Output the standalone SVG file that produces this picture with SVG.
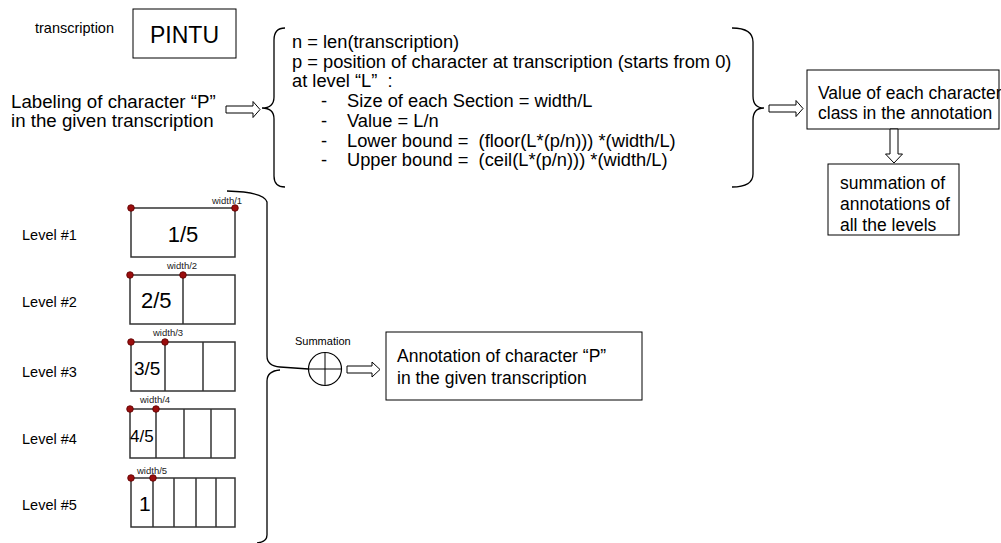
<svg xmlns="http://www.w3.org/2000/svg" width="1001" height="543" viewBox="0 0 1001 543">
  <style>
    text { font-family: "Liberation Sans", Arial, sans-serif; fill: #000; }
    .box { fill: #fff; stroke: #000; stroke-width: 1; }
    .cell { fill: #fff; stroke: #333; stroke-width: 1.5; }
    .div { stroke: #333; stroke-width: 1.5; }
    .brace { fill: none; stroke: #000; stroke-width: 1.3; }
    .harrow { fill: #fff; stroke: #000; stroke-width: 1; }
    .dot { fill: #9b0d0d; stroke: #5a0000; stroke-width: 0.8; }
    .lbl { font-size: 14.5px; }
    .w { font-size: 9.5px; fill: #222; }
    .big { font-size: 18.7px; }
    .body { font-size: 18.3px; }
    .side { font-size: 17.5px; }
  </style>

  <!-- input word -->
  <g id="transcription">
    <text x="35" y="33" class="lbl">transcription</text>
    <rect class="box" x="133" y="9" width="103" height="49"/>
    <text x="184.5" y="43" font-size="23" text-anchor="middle">PINTU</text>
  </g>

  <g id="labeling">
    <text x="11" y="108" class="big">Labeling of character “P”</text>
    <text x="11" y="127" class="big">in the given transcription</text>
  </g>

  <!-- formula block -->
  <g id="formula">
    <text class="body" x="292" y="48">n = len(transcription)</text>
    <text class="body" x="292" y="68">p = position of character at transcription (starts from 0)</text>
    <text class="body" x="292" y="87" xml:space="preserve">at level “L”  :</text>
    <text class="body" x="321" y="107">-</text>
    <text class="body" x="347" y="107">Size of each Section = width/L</text>
    <text class="body" x="321" y="127">-</text>
    <text class="body" x="347" y="127">Value = L/n</text>
    <text class="body" x="321" y="147">-</text>
    <text class="body" x="347" y="147" xml:space="preserve">Lower bound =  (floor(L*(p/n))) *(width/L)</text>
    <text class="body" x="321" y="166">-</text>
    <text class="body" x="347" y="166" xml:space="preserve">Upper bound =  (ceil(L*(p/n))) *(width/L)</text>
  </g>

  <g id="value-box">
    <rect class="box" x="807" y="70" width="192" height="59"/>
    <text class="side" x="818" y="99">Value of each character</text>
    <text class="side" x="818" y="119">class in the annotation</text>
  </g>

  <g id="sum-levels">
    <rect class="box" x="828" y="164" width="131" height="71"/>
    <text class="side" x="840" y="189">summation of</text>
    <text class="side" x="840" y="210">annotations of</text>
    <text class="side" x="840" y="231">all the levels</text>
  </g>

  <!-- levels -->
  <g id="level-1">
    <text class="lbl" x="22" y="240">Level #1</text>
    <rect class="cell" x="131" y="208" width="104" height="49"/>
    <text x="212" y="204" class="w">width/1</text>
    <text x="183" y="242" font-size="22" text-anchor="middle">1/5</text>
    <circle class="dot" cx="131" cy="208" r="3.3"/>
    <circle class="dot" cx="235" cy="208" r="3.3"/>
  </g>

  <g id="level-2">
    <text class="lbl" x="22" y="307">Level #2</text>
    <rect class="cell" x="130" y="275" width="105" height="49"/>
    <line class="div" x1="183" y1="275" x2="183" y2="324"/>
    <text x="167" y="269" class="w">width/2</text>
    <text x="141" y="308" font-size="22">2/5</text>
    <circle class="dot" cx="130" cy="275" r="3.3"/>
    <circle class="dot" cx="183" cy="275" r="3.3"/>
  </g>

  <g id="level-3">
    <text class="lbl" x="22" y="377">Level #3</text>
    <rect class="cell" x="131" y="342" width="104" height="49"/>
    <line class="div" x1="165" y1="342" x2="165" y2="391"/>
    <line class="div" x1="203" y1="342" x2="203" y2="391"/>
    <text x="153" y="336" class="w">width/3</text>
    <text x="134" y="375" font-size="19">3/5</text>
    <circle class="dot" cx="131" cy="342" r="3.3"/>
    <circle class="dot" cx="165" cy="342" r="3.3"/>
  </g>

  <g id="level-4">
    <text class="lbl" x="22" y="444">Level #4</text>
    <rect class="cell" x="130" y="409" width="105" height="49"/>
    <line class="div" x1="156" y1="409" x2="156" y2="458"/>
    <line class="div" x1="184" y1="409" x2="184" y2="458"/>
    <line class="div" x1="211" y1="409" x2="211" y2="458"/>
    <text x="140" y="403" class="w">width/4</text>
    <text x="130" y="442" font-size="17">4/5</text>
    <circle class="dot" cx="130" cy="409" r="3.3"/>
    <circle class="dot" cx="156" cy="409" r="3.3"/>
  </g>

  <g id="level-5">
    <text class="lbl" x="22" y="510">Level #5</text>
    <rect class="cell" x="131" y="478" width="104" height="49"/>
    <line class="div" x1="153" y1="478" x2="153" y2="527"/>
    <line class="div" x1="174" y1="478" x2="174" y2="527"/>
    <line class="div" x1="196" y1="478" x2="196" y2="527"/>
    <line class="div" x1="216" y1="478" x2="216" y2="527"/>
    <text x="137" y="474" class="w">width/5</text>
    <text x="139" y="511" font-size="21">1</text>
    <circle class="dot" cx="131" cy="478" r="3.3"/>
    <circle class="dot" cx="153" cy="478" r="3.3"/>
  </g>

  <g id="summation">
    <text x="295" y="345" font-size="11" fill="#222">Summation</text>
    <circle cx="325" cy="369" r="16.5" fill="none" stroke="#000" stroke-width="1.2"/>
    <line x1="308.5" y1="369" x2="341.5" y2="369" stroke="#000" stroke-width="1"/>
    <line x1="325" y1="352.5" x2="325" y2="385.5" stroke="#000" stroke-width="1"/>
  </g>

  <g id="annotation">
    <rect class="box" x="386" y="332" width="256" height="68"/>
    <text class="side" x="397" y="362">Annotation of character “P”</text>
    <text class="side" x="397" y="384">in the given transcription</text>
  </g>

  <!-- braces and block arrows -->
  <g id="connectors">
    <path class="brace" d="M285,28 Q274,28 274,40 L274,97 Q274,108 262,108 Q274,108 274,119 L274,176 Q274,187 285,187"/>
    <path class="brace" d="M732,28 Q753,28 753,42 L753,96 Q753,108 764,108 Q753,108 753,120 L753,174 Q753,187 732,187"/>
    <path class="brace" d="M227,191 Q264,192 267,202 L267,356 Q267,366 280,367 L308.5,369 M280,370 Q267,371 267,381 L267,535 Q267,542 257,543"/>
    <polygon class="harrow" points="226,106 253,106 253,101.5 260,109.5 253,117.5 253,113 226,113"/>
    <polygon class="harrow" points="769,105 796,105 796,100.5 803,108.5 796,116.5 796,112 769,112"/>
    <polygon class="harrow" points="890,129 898,129 898,154 902.5,154 894,163 885.5,154 890,154"/>
    <polygon class="harrow" points="347,366 372,366 372,362 380,369.5 372,377 372,373 347,373"/>
  </g>
</svg>
